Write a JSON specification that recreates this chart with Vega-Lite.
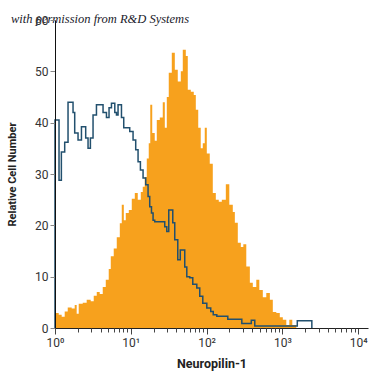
{
  "$schema": "https://vega.github.io/schema/vega-lite/v6.json",
  "width": 313,
  "height": 308,
  "autosize": {"type": "none"},
  "padding": {"left": 55, "top": 20, "right": 7, "bottom": 47},
  "background": "white",
  "config": {"view": {"stroke": null}},
  "title": {
    "text": "with permission from R&D Systems",
    "anchor": "start",
    "frame": "group",
    "font": "Liberation Serif, DejaVu Serif, serif",
    "fontStyle": "italic",
    "fontWeight": "normal",
    "fontSize": 12.5,
    "color": "#1a1a2a",
    "dx": -44,
    "dy": 15
  },
  "resolve": {"axis": {"x": "independent"}},
  "datasets": {
    "stained": [
      {"log_intensity": 0, "cells": 2.9},
      {"log_intensity": 0.049, "cells": 2.6},
      {"log_intensity": 0.088, "cells": 2.2},
      {"log_intensity": 0.128, "cells": 3.2},
      {"log_intensity": 0.168, "cells": 4.0},
      {"log_intensity": 0.220, "cells": 3.8},
      {"log_intensity": 0.260, "cells": 4.5},
      {"log_intensity": 0.286, "cells": 2.8},
      {"log_intensity": 0.313, "cells": 4.7},
      {"log_intensity": 0.366, "cells": 4.9},
      {"log_intensity": 0.418, "cells": 5.5},
      {"log_intensity": 0.471, "cells": 5.2},
      {"log_intensity": 0.511, "cells": 6.3},
      {"log_intensity": 0.551, "cells": 7.0},
      {"log_intensity": 0.590, "cells": 6.6},
      {"log_intensity": 0.630, "cells": 8.0},
      {"log_intensity": 0.670, "cells": 9.4},
      {"log_intensity": 0.709, "cells": 11.5},
      {"log_intensity": 0.736, "cells": 14.0},
      {"log_intensity": 0.775, "cells": 15.5},
      {"log_intensity": 0.815, "cells": 17.7},
      {"log_intensity": 0.855, "cells": 20.4},
      {"log_intensity": 0.881, "cells": 24.0},
      {"log_intensity": 0.908, "cells": 21.0},
      {"log_intensity": 0.934, "cells": 22.4},
      {"log_intensity": 0.974, "cells": 23.0},
      {"log_intensity": 1.013, "cells": 25.2},
      {"log_intensity": 1.053, "cells": 26.3},
      {"log_intensity": 1.092, "cells": 25.0},
      {"log_intensity": 1.132, "cells": 26.5},
      {"log_intensity": 1.158, "cells": 27.5},
      {"log_intensity": 1.184, "cells": 29.4},
      {"log_intensity": 1.211, "cells": 33.0},
      {"log_intensity": 1.237, "cells": 36.0},
      {"log_intensity": 1.257, "cells": 43.5},
      {"log_intensity": 1.283, "cells": 38.0},
      {"log_intensity": 1.316, "cells": 36.5},
      {"log_intensity": 1.343, "cells": 40.5},
      {"log_intensity": 1.383, "cells": 41.0},
      {"log_intensity": 1.422, "cells": 44.0},
      {"log_intensity": 1.449, "cells": 39.0},
      {"log_intensity": 1.475, "cells": 45.0},
      {"log_intensity": 1.501, "cells": 49.7},
      {"log_intensity": 1.541, "cells": 53.6},
      {"log_intensity": 1.581, "cells": 50.3},
      {"log_intensity": 1.620, "cells": 48.0},
      {"log_intensity": 1.660, "cells": 50.0},
      {"log_intensity": 1.686, "cells": 54.2},
      {"log_intensity": 1.726, "cells": 53.0},
      {"log_intensity": 1.752, "cells": 46.4},
      {"log_intensity": 1.792, "cells": 46.0},
      {"log_intensity": 1.831, "cells": 45.4},
      {"log_intensity": 1.858, "cells": 42.5},
      {"log_intensity": 1.890, "cells": 39.0},
      {"log_intensity": 1.923, "cells": 35.0},
      {"log_intensity": 1.950, "cells": 36.0},
      {"log_intensity": 1.976, "cells": 39.0},
      {"log_intensity": 2.003, "cells": 34.0},
      {"log_intensity": 2.042, "cells": 32.0},
      {"log_intensity": 2.082, "cells": 26.3},
      {"log_intensity": 2.122, "cells": 25.0},
      {"log_intensity": 2.161, "cells": 24.6},
      {"log_intensity": 2.201, "cells": 25.0},
      {"log_intensity": 2.254, "cells": 28.0},
      {"log_intensity": 2.300, "cells": 24.0},
      {"log_intensity": 2.346, "cells": 22.6},
      {"log_intensity": 2.373, "cells": 20.5},
      {"log_intensity": 2.412, "cells": 16.6},
      {"log_intensity": 2.452, "cells": 15.8},
      {"log_intensity": 2.485, "cells": 16.3},
      {"log_intensity": 2.524, "cells": 12.0},
      {"log_intensity": 2.571, "cells": 8.8},
      {"log_intensity": 2.610, "cells": 8.0},
      {"log_intensity": 2.656, "cells": 9.4},
      {"log_intensity": 2.696, "cells": 7.4},
      {"log_intensity": 2.742, "cells": 6.0},
      {"log_intensity": 2.788, "cells": 6.8},
      {"log_intensity": 2.835, "cells": 5.5},
      {"log_intensity": 2.874, "cells": 3.1},
      {"log_intensity": 2.920, "cells": 2.9},
      {"log_intensity": 2.966, "cells": 2.1},
      {"log_intensity": 3.006, "cells": 1.6},
      {"log_intensity": 3.052, "cells": 0.6},
      {"log_intensity": 3.092, "cells": 1.6},
      {"log_intensity": 3.131, "cells": 0.6},
      {"log_intensity": 3.184, "cells": 0}
    ],
    "control": [
      {"log_intensity": 0, "cells": 0},
      {"log_intensity": 0, "cells": 40.5},
      {"log_intensity": 0.053, "cells": 28.8},
      {"log_intensity": 0.084, "cells": 34.3},
      {"log_intensity": 0.128, "cells": 36.2},
      {"log_intensity": 0.172, "cells": 44.0},
      {"log_intensity": 0.238, "cells": 42.0},
      {"log_intensity": 0.260, "cells": 38.0},
      {"log_intensity": 0.304, "cells": 36.6},
      {"log_intensity": 0.349, "cells": 39.2},
      {"log_intensity": 0.405, "cells": 37.0},
      {"log_intensity": 0.436, "cells": 35.0},
      {"log_intensity": 0.467, "cells": 37.0},
      {"log_intensity": 0.502, "cells": 41.5},
      {"log_intensity": 0.547, "cells": 43.5},
      {"log_intensity": 0.634, "cells": 42.0},
      {"log_intensity": 0.679, "cells": 41.0},
      {"log_intensity": 0.713, "cells": 42.9},
      {"log_intensity": 0.745, "cells": 43.8},
      {"log_intensity": 0.789, "cells": 42.0},
      {"log_intensity": 0.811, "cells": 41.5},
      {"log_intensity": 0.832, "cells": 43.5},
      {"log_intensity": 0.877, "cells": 41.0},
      {"log_intensity": 0.907, "cells": 39.0},
      {"log_intensity": 0.986, "cells": 38.3},
      {"log_intensity": 1.030, "cells": 36.6},
      {"log_intensity": 1.065, "cells": 34.7},
      {"log_intensity": 1.096, "cells": 32.4},
      {"log_intensity": 1.127, "cells": 30.8},
      {"log_intensity": 1.162, "cells": 29.2},
      {"log_intensity": 1.197, "cells": 27.9},
      {"log_intensity": 1.228, "cells": 25.6},
      {"log_intensity": 1.250, "cells": 23.6},
      {"log_intensity": 1.273, "cells": 22.4},
      {"log_intensity": 1.294, "cells": 21.0},
      {"log_intensity": 1.316, "cells": 20.7},
      {"log_intensity": 1.448, "cells": 19.7},
      {"log_intensity": 1.475, "cells": 18.8},
      {"log_intensity": 1.501, "cells": 23.0},
      {"log_intensity": 1.554, "cells": 20.5},
      {"log_intensity": 1.580, "cells": 17.2},
      {"log_intensity": 1.620, "cells": 13.3},
      {"log_intensity": 1.653, "cells": 15.2},
      {"log_intensity": 1.712, "cells": 11.9},
      {"log_intensity": 1.739, "cells": 10.0},
      {"log_intensity": 1.778, "cells": 9.8},
      {"log_intensity": 1.818, "cells": 8.5},
      {"log_intensity": 1.871, "cells": 7.8},
      {"log_intensity": 1.910, "cells": 6.2},
      {"log_intensity": 1.950, "cells": 4.8},
      {"log_intensity": 2.003, "cells": 3.9},
      {"log_intensity": 2.055, "cells": 3.2},
      {"log_intensity": 2.088, "cells": 2.6},
      {"log_intensity": 2.135, "cells": 2.3},
      {"log_intensity": 2.280, "cells": 1.7},
      {"log_intensity": 2.465, "cells": 0.9},
      {"log_intensity": 2.590, "cells": 1.5},
      {"log_intensity": 2.636, "cells": 0.4},
      {"log_intensity": 3.197, "cells": 1.4},
      {"log_intensity": 3.389, "cells": 0}
    ]
  },
  "layer": [
    {
      "data": {"name": "stained"},
      "mark": {"type": "area", "interpolate": "step-after", "color": "#F7A11D"},
      "encoding": {
        "x": {
          "field": "log_intensity",
          "type": "quantitative",
          "scale": {"domain": [0, 4.13], "nice": false, "zero": false},
          "axis": {
            "orient": "bottom",
            "title": "Neuropilin-1",
            "grid": false,
            "zindex": 1,
            "values": [0, 1, 2, 3, 4],
            "labelExpr": "datum.value === 0 ? '10⁰' : datum.value === 1 ? '10¹' : datum.value === 2 ? '10²' : datum.value === 3 ? '10³' : '10⁴'",
            "labelFlush": false,
            "labelOverlap": false,
            "labelFont": "Roboto, Liberation Sans, sans-serif",
            "labelFontSize": 12,
            "labelColor": "#333333",
            "labelPadding": 3,
            "domainColor": "#222222",
            "domainWidth": 1,
            "tickColor": "#444444",
            "tickSize": 6,
            "titleFont": "Roboto, Liberation Sans, sans-serif",
            "titleFontSize": 12.5,
            "titleFontWeight": "bold",
            "titleColor": "#222222",
            "titlePadding": 9
          }
        },
        "y": {
          "field": "cells",
          "type": "quantitative",
          "scale": {"domain": [0, 60], "nice": false},
          "axis": {
            "title": "Relative Cell Number",
            "grid": false,
            "zindex": 1,
            "values": [0, 10, 20, 30, 40, 50, 60],
            "labelFont": "Roboto, Liberation Sans, sans-serif",
            "labelFontSize": 12,
            "labelColor": "#333333",
            "labelPadding": 2,
            "domainColor": "#111111",
            "tickColor": "#888888",
            "tickSize": 5,
            "titleFont": "Roboto, Liberation Sans, sans-serif",
            "titleFontSize": 11,
            "titleFontWeight": "bold",
            "titleColor": "#222222",
            "titlePadding": 17
          }
        }
      }
    },
    {
      "data": {"name": "control"},
      "mark": {"type": "line", "interpolate": "step-after", "color": "#22506E", "strokeWidth": 1.5},
      "encoding": {
        "x": {
          "field": "log_intensity",
          "type": "quantitative",
          "axis": {
            "orient": "bottom",
            "title": null,
            "labels": false,
            "domain": false,
            "grid": false,
            "zindex": 1,
            "values": [0.301, 0.477, 0.602, 0.699, 0.778, 0.845, 0.903, 0.954,
                       1.301, 1.477, 1.602, 1.699, 1.778, 1.845, 1.903, 1.954,
                       2.301, 2.477, 2.602, 2.699, 2.778, 2.845, 2.903, 2.954,
                       3.301, 3.477, 3.602, 3.699, 3.778, 3.845, 3.903, 3.954],
            "tickColor": "#444444",
            "tickSize": 4
          }
        },
        "y": {"field": "cells", "type": "quantitative"}
      }
    }
  ]
}
